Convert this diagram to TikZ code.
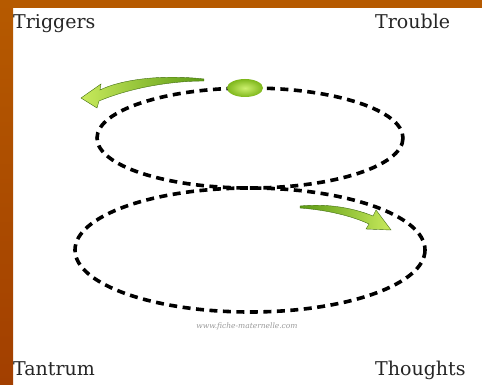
\documentclass[tikz,border=0pt]{standalone}
\usepackage{fontspec}
\setmainfont{DejaVu Serif}
\usepackage{xcolor}
\definecolor{borderorange}{HTML}{B65A00}
\definecolor{borderdeep}{HTML}{A23F00}
\definecolor{arrowlight}{HTML}{C8EA5C}
\definecolor{arrowdark}{HTML}{5C9A14}
\definecolor{ballgreen}{HTML}{8CCB1E}
\definecolor{balllight}{HTML}{CDF06E}

\begin{document}
\begin{tikzpicture}[x=1pt, y=-1pt,
    loopline/.style={line width=3.6pt, dash pattern=on 8pt off 5.5pt, black},
    lbl/.style={font=\fontsize{19}{22}\selectfont, text=black!85, anchor=base west, inner sep=0pt},
    bentarrow/.style={draw=arrowdark!70!black, line width=0.4pt},
]
\useasboundingbox (0,0) rectangle (482,385);

% Frame
\fill[white] (0,0) rectangle (482,385);
\shade[top color=borderorange, bottom color=borderdeep] (0,0) rectangle (13,385);
\fill[borderorange] (0,0) rectangle (482,8);

% Dashed loops
\draw[loopline] (250,138) ellipse (153 and 50);
\draw[loopline] (250,250) ellipse (175 and 62);

% Ball on the upper loop
\shade[inner color=balllight, outer color=ballgreen!90!black] (245,88) ellipse (18 and 9);

% Curved arrows
\shade[bentarrow, left color=arrowlight, right color=arrowdark]
    (204,79) .. controls (160,74) and (120,80) .. (100,90) -- (101,84) -- (81,98)
    -- (97,108) -- (99,101) .. controls (130,88) and (170,81) .. (204,81) -- cycle;
\shade[bentarrow, left color=arrowdark, right color=arrowlight]
    (300,206) .. controls (330,203) and (356,209) .. (373,216) -- (376,210) -- (391,230)
    -- (366,229) -- (369,224) .. controls (352,216) and (327,210) .. (300,208) -- cycle;

% Watermark
\node[font=\itshape\fontsize{7.5}{9}\selectfont, text=black!40] (mark) at (247,326) {www.fiche-maternelle.com};

% Corner labels
\foreach \name/\x/\y/\txt in {trig/13/29/Triggers, troub/375/29/Trouble,
                               tant/13/375/Tantrum, thou/375/375/Thoughts} {
    \node[lbl] (\name) at (\x,\y) {\txt};
}

\end{tikzpicture}
\end{document}
